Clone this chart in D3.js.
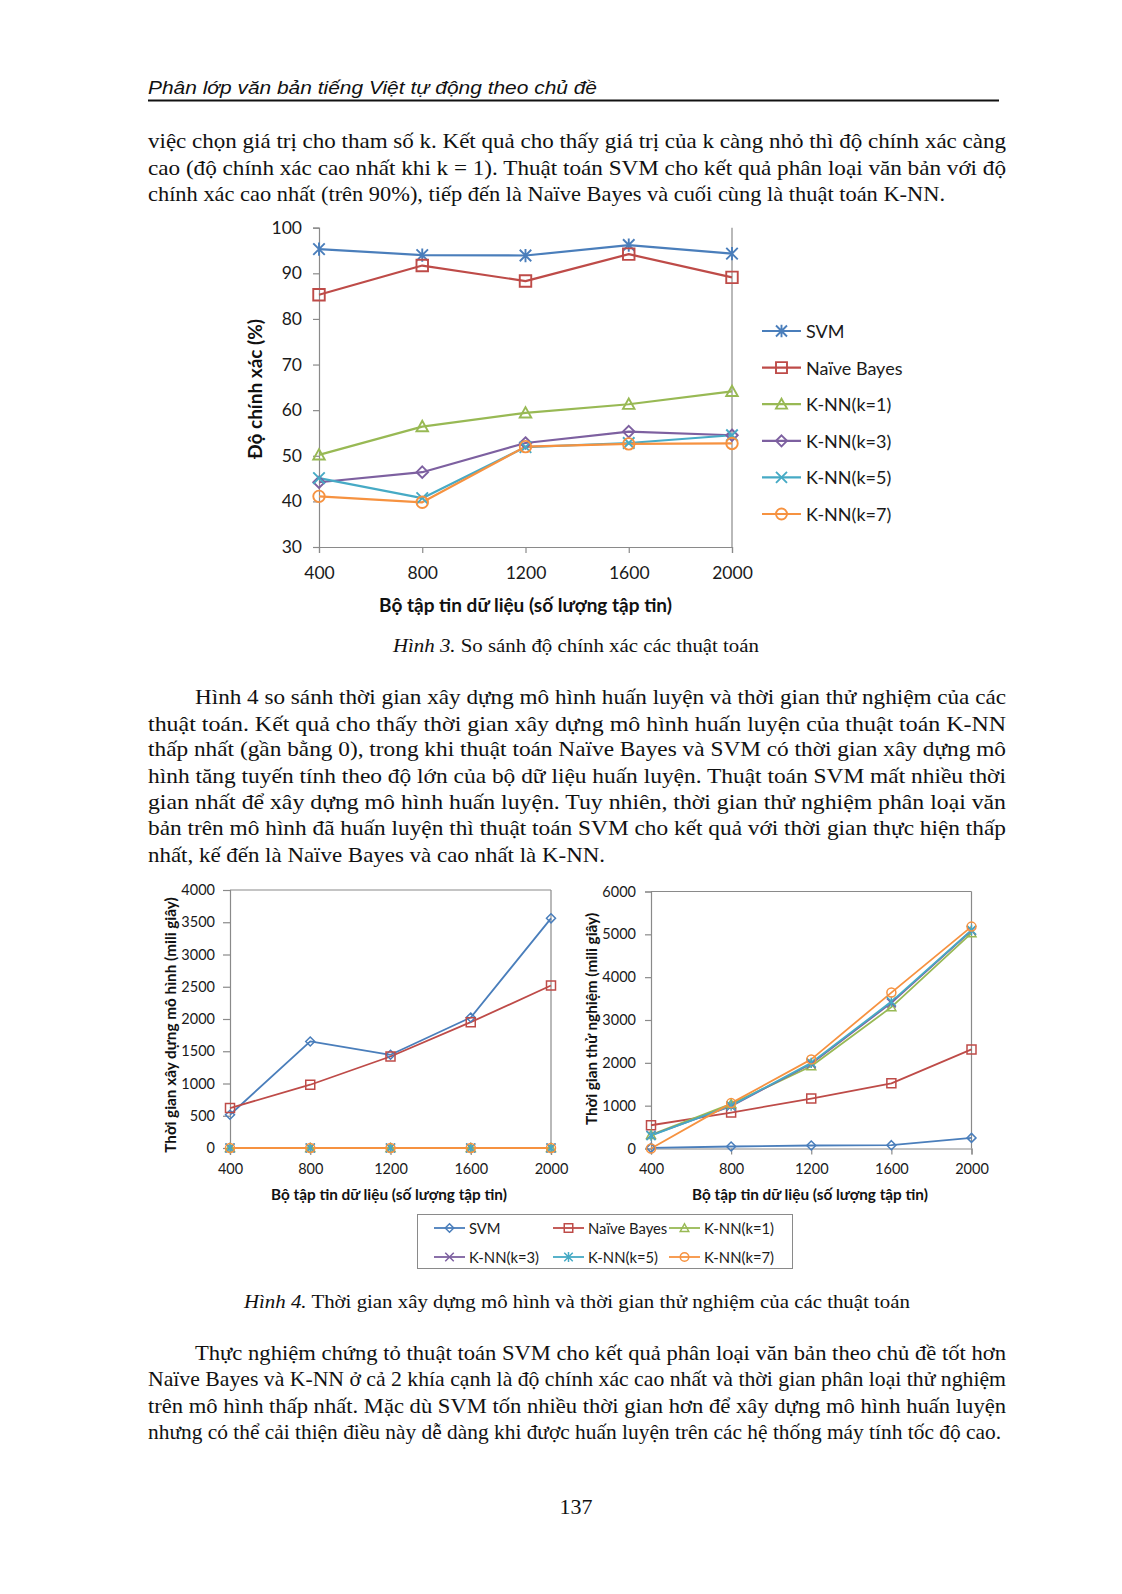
<!DOCTYPE html>
<html><head><meta charset="utf-8">
<script src="https://cdn.jsdelivr.net/npm/d3@7"></script>
<style>
html,body{margin:0;padding:0;background:#fff;}
svg{display:block;}
</style></head>
<body>
<svg id="page" width="1122" height="1594"></svg>
<script>
// ---------- DATA ----------
const sizes = [400, 800, 1200, 1600, 2000];
const seriesNames = ["SVM", "Naïve Bayes", "K-NN(k=1)", "K-NN(k=3)", "K-NN(k=5)", "K-NN(k=7)"];
const seriesColors = ["#4A7EBB", "#BE4B48", "#98B954", "#7D60A0", "#46AAC5", "#F69240"];

// Hình 3 – accuracy (%)
const accSVM = [95.3, 94.0, 93.9, 96.2, 94.3];
const accNB  = [85.3, 91.7, 88.3, 94.2, 89.1];
const accK1  = [50.2, 56.4, 59.4, 61.3, 64.1];
const accK3  = [44.2, 46.4, 52.8, 55.3, 54.5];
const accK5  = [45.1, 40.7, 51.9, 52.8, 54.5];
const accK7  = [41.1, 39.8, 52.0, 52.6, 52.7];
const accTicks = [30, 40, 50, 60, 70, 80, 90, 100];
const accMarkers = ["star", "square", "triangle", "diamond", "x", "circle"];

// Hình 4 – build time (ms)
const buildSVM = [516, 1652, 1445, 2023, 3561];
const buildNB  = [619, 981, 1419, 1951, 2519];
const buildK1  = [0, 0, 0, 0, 0];
const buildK3  = [0, 0, 0, 0, 0];
const buildK5  = [0, 0, 0, 0, 0];
const buildK7  = [0, 0, 0, 0, 0];
const buildTicks = [0, 500, 1000, 1500, 2000, 2500, 3000, 3500, 4000];

// Hình 4 – test time (ms)
const testSVM = [15, 47, 70, 78, 248];
const testNB  = [543, 838, 1165, 1522, 2314];
const testK1  = [320, 1040, 1920, 3300, 5030];
const testK3  = [310, 990, 1980, 3400, 5090];
const testK5  = [300, 1000, 2000, 3430, 5100];
const testK7  = [0, 1060, 2080, 3640, 5180];
const testTicks = [0, 1000, 2000, 3000, 4000, 5000, 6000];
const timeMarkers = ["diamond", "square", "triangle", "x", "star", "circle"];

// Text
const headerText = "Phân lớp văn bản tiếng Việt tự động theo chủ đề";
const para1 = [
 "việc chọn giá trị cho tham số k. Kết quả cho thấy giá trị của k càng nhỏ thì độ chính xác càng",
 "cao (độ chính xác cao nhất khi k = 1). Thuật toán SVM cho kết quả phân loại văn bản với độ",
 "chính xác cao nhất (trên 90%), tiếp đến là Naïve Bayes và cuối cùng là thuật toán K-NN."
];
const para2 = [
 "Hình 4 so sánh thời gian xây dựng mô hình huấn luyện và thời gian thử nghiệm của các",
 "thuật toán. Kết quả cho thấy thời gian xây dựng mô hình huấn luyện của thuật toán K-NN",
 "thấp nhất (gần bằng 0), trong khi thuật toán Naïve Bayes và SVM có thời gian xây dựng mô",
 "hình tăng tuyến tính theo độ lớn của bộ dữ liệu huấn luyện. Thuật toán SVM mất nhiều thời",
 "gian nhất để xây dựng mô hình huấn luyện. Tuy nhiên, thời gian thử nghiệm phân loại văn",
 "bản trên mô hình đã huấn luyện thì thuật toán SVM cho kết quả với thời gian thực hiện thấp",
 "nhất, kế đến là Naïve Bayes và cao nhất là K-NN."
];
const para3 = [
 "Thực nghiệm chứng tỏ thuật toán SVM cho kết quả phân loại văn bản theo chủ đề tốt hơn",
 "Naïve Bayes và K-NN ở cả 2 khía cạnh là độ chính xác cao nhất và thời gian phân loại thử nghiệm",
 "trên mô hình thấp nhất. Mặc dù SVM tốn nhiều thời gian hơn để xây dựng mô hình huấn luyện",
 "nhưng có thể cải thiện điều này dễ dàng khi được huấn luyện trên các hệ thống máy tính tốc độ cao."
];
const caption3 = ["Hình 3.", " So sánh độ chính xác các thuật toán"];
const caption4 = ["Hình 4.", " Thời gian xây dựng mô hình và thời gian thử nghiệm của các thuật toán"];
const pageNumber = "137";
const xTitle = "Bộ tập tin dữ liệu (số lượng tập tin)";

// ---------- DRAWING ----------
const svg = d3.select("#page");
svg.append("rect").attr("width", 1122).attr("height", 1594).attr("fill", "#fff");

const SERIF = "'Liberation Serif','Times New Roman',serif";
const SANS = "Lato,'Open Sans',sans-serif";
const AXIS = "#8a8a8a";
const TXT = "#1a1a1a";

// Header
svg.append("text").attr("x", 148).attr("y", 94)
  .attr("font-family", "'Liberation Sans',Arial,sans-serif").attr("font-style", "italic")
  .attr("font-size", 18.5).attr("fill", "#111")
  .attr("textLength", 449).attr("lengthAdjust", "spacingAndGlyphs").text(headerText);
svg.append("line").attr("x1", 148).attr("x2", 999).attr("y1", 100.5).attr("y2", 100.5)
  .attr("stroke", "#111").attr("stroke-width", 2);

function paragraph(lines, baselines, firstX, lastWidth) {
  lines.forEach((t, i) => {
    const x = i === 0 ? firstX : 148;
    let w = 1006 - x;
    if (i === lines.length - 1) w = lastWidth;
    svg.append("text").attr("x", x).attr("y", baselines[i])
      .attr("font-family", SERIF).attr("font-size", 21).attr("fill", "#111")
      .attr("textLength", w).attr("lengthAdjust", "spacingAndGlyphs").text(t);
  });
}
paragraph(para1, [148, 174.5, 201], 148, 797);
paragraph(para2, [704, 730.5, 756, 782.5, 809, 835.3, 861.7], 195, 457);
paragraph(para3, [1359.7, 1386.1, 1412.6, 1439], 195, 853);

function caption(parts, x, y, w) {
  const t = svg.append("text").attr("x", x).attr("y", y)
    .attr("font-family", SERIF).attr("font-size", 19).attr("fill", "#111")
    .attr("textLength", w).attr("lengthAdjust", "spacingAndGlyphs");
  t.append("tspan").attr("font-style", "italic").text(parts[0]);
  t.append("tspan").text(parts[1]);
}
caption(caption3, 393, 652, 366);
caption(caption4, 244, 1307.5, 666);

svg.append("text").attr("x", 576).attr("y", 1514).attr("text-anchor", "middle")
  .attr("font-family", SERIF).attr("font-size", 22).attr("fill", "#111").text(pageNumber);

// marker path
function markerPath(type, s) {
  const h = s / 2;
  switch (type) {
    case "square": return `M${-h},${-h}H${h}V${h}H${-h}Z`;
    case "triangle": return `M0,${-h}L${h},${h * 0.8}L${-h},${h * 0.8}Z`;
    case "diamond": return `M0,${-h}L${h},0L0,${h}L${-h},0Z`;
    case "x": return `M${-h},${-h}L${h},${h}M${-h},${h}L${h},${-h}`;
    case "star": return `M${-h},${-h}L${h},${h}M${-h},${h}L${h},${-h}M0,${-h * 1.15}L0,${h * 1.15}`;
    case "circle": { const p = d3.path(); p.arc(0, 0, h, 0, Math.PI * 2); p.closePath(); return p.toString(); }
  }
}

function lineChart(cfg) {
  const g = svg.append("g");
  const x = d3.scaleLinear().domain([sizes[0], sizes[sizes.length - 1]]).range([cfg.left, cfg.right]);
  const y = d3.scaleLinear().domain([cfg.yTicks[0], cfg.yTicks[cfg.yTicks.length - 1]]).range([cfg.bottom, cfg.top]);

  if (cfg.topBorder) g.append("line").attr("x1", cfg.left).attr("x2", cfg.right).attr("y1", cfg.top).attr("y2", cfg.top).attr("stroke", AXIS).attr("stroke-width", 1.2);
  g.append("line").attr("x1", cfg.right).attr("x2", cfg.right).attr("y1", cfg.top).attr("y2", cfg.bottom).attr("stroke", AXIS).attr("stroke-width", 1.2);

  const ya = d3.axisLeft(y).tickValues(cfg.yTicks).tickSize(cfg.tick).tickPadding(cfg.yPad).tickFormat(d3.format("d"));
  const yg = g.append("g").attr("transform", `translate(${cfg.left},0)`).call(ya);
  const xa = d3.axisBottom(x).tickValues(sizes).tickSize(cfg.tick).tickPadding(cfg.xPad).tickFormat(d3.format("d"));
  const xg = g.append("g").attr("transform", `translate(0,${cfg.bottom})`).call(xa);
  [yg, xg].forEach(a => {
    a.attr("font-size", cfg.fs).attr("font-family", SANS);
    a.select(".domain").attr("stroke", AXIS).attr("stroke-width", 1.2);
    a.selectAll(".tick line").attr("stroke", AXIS).attr("stroke-width", 1.2);
    a.selectAll("text").attr("font-family", SANS).attr("font-size", cfg.fs).attr("fill", TXT);
  });

  const line = d3.line().x((d, i) => x(sizes[i])).y(d => y(d));
  cfg.series.forEach((vals, si) => {
    g.append("path").attr("d", line(vals)).attr("fill", "none").attr("stroke", seriesColors[si])
      .attr("stroke-width", cfg.lw).attr("stroke-linejoin", "round");
  });
  cfg.series.forEach((vals, si) => {
    g.selectAll(null).data(vals).enter().append("path")
      .attr("transform", (d, i) => `translate(${x(sizes[i])},${y(d)})`)
      .attr("d", markerPath(cfg.markers[si], cfg.ms))
      .attr("fill", "none").attr("stroke", seriesColors[si]).attr("stroke-width", cfg.mw);
  });

  g.append("text").attr("x", cfg.xTitleX).attr("y", cfg.xTitleY).attr("text-anchor", "middle")
    .attr("font-family", SANS).attr("font-weight", "bold").attr("font-size", cfg.tfs).attr("fill", "#111").text(xTitle);
  g.append("text").attr("transform", `translate(${cfg.yTitleX},${cfg.yTitleY}) rotate(-90)`)
    .attr("text-anchor", "middle").attr("dominant-baseline", "central")
    .attr("font-family", SANS).attr("font-weight", "bold").attr("font-size", cfg.tfs).attr("fill", "#111").text(cfg.yTitle);
  return { x, y };
}

// Hình 3
lineChart({
  left: 319, right: 732, top: 227.7, bottom: 547,
  yTicks: accTicks, tick: 6, yPad: 11, xPad: 14, fs: 17.5, tfs: 19,
  series: [accSVM, accNB, accK1, accK3, accK5, accK7], markers: accMarkers,
  lw: 2.2, ms: 11.5, mw: 1.9, topBorder: false,
  xTitleX: 525.5, xTitleY: 612, yTitleX: 254, yTitleY: 389, yTitle: "Độ chính xác (%)"
});

// Legend (Hình 3)
const leg3 = svg.append("g");
const leg3Y = d3.scalePoint().domain(seriesNames).range([331, 514]);
seriesNames.forEach((n, i) => {
  const yy = leg3Y(n);
  leg3.append("line").attr("x1", 762).attr("x2", 801).attr("y1", yy).attr("y2", yy)
    .attr("stroke", seriesColors[i]).attr("stroke-width", 2.2);
  leg3.append("path").attr("transform", `translate(781.5,${yy})`).attr("d", markerPath(accMarkers[i], 11))
    .attr("fill", "none").attr("stroke", seriesColors[i]).attr("stroke-width", 1.9);
  leg3.append("text").attr("x", 806).attr("y", yy).attr("dominant-baseline", "central")
    .attr("font-family", SANS).attr("font-size", 18).attr("fill", TXT).text(n);
});

// Hình 4 left
lineChart({
  left: 230, right: 551, top: 890, bottom: 1148,
  yTicks: buildTicks, tick: 7, yPad: 8, xPad: 9, fs: 14.5, tfs: 15.3,
  series: [buildSVM, buildNB, buildK1, buildK3, buildK5, buildK7], markers: timeMarkers,
  lw: 1.8, ms: 9, mw: 1.5, topBorder: true,
  xTitleX: 389, xTitleY: 1199.5, yTitleX: 170, yTitleY: 1025, yTitle: "Thời gian xây dựng mô hình (mili giây)"
});

// Hình 4 right
lineChart({
  left: 651, right: 971.5, top: 891.5, bottom: 1148.5,
  yTicks: testTicks, tick: 6, yPad: 9, xPad: 9, fs: 14.5, tfs: 15.3,
  series: [testSVM, testNB, testK1, testK3, testK5, testK7], markers: timeMarkers,
  lw: 1.8, ms: 9, mw: 1.5, topBorder: true,
  xTitleX: 810, xTitleY: 1199.5, yTitleX: 590.5, yTitleY: 1019, yTitle: "Thời gian thử nghiệm (mili giây)"
});

// Legend (Hình 4)
const leg4 = svg.append("g");
leg4.append("rect").attr("x", 417.5).attr("y", 1214.5).attr("width", 375).attr("height", 54)
  .attr("fill", "#fff").attr("stroke", AXIS).attr("stroke-width", 1);
const leg4Col = [434, 553, 669];
const leg4Row = [1228, 1257];
seriesNames.forEach((n, i) => {
  const cx = leg4Col[i % 3], cy = leg4Row[Math.floor(i / 3)];
  leg4.append("line").attr("x1", cx).attr("x2", cx + 31).attr("y1", cy).attr("y2", cy)
    .attr("stroke", seriesColors[i]).attr("stroke-width", 1.8);
  leg4.append("path").attr("transform", `translate(${cx + 15.5},${cy})`).attr("d", markerPath(timeMarkers[i], 8.5))
    .attr("fill", "none").attr("stroke", seriesColors[i]).attr("stroke-width", 1.5);
  leg4.append("text").attr("x", cx + 35).attr("y", cy).attr("dominant-baseline", "central")
    .attr("font-family", SANS).attr("font-size", 14.8).attr("fill", TXT).text(n);
});
</script>
</body></html>
